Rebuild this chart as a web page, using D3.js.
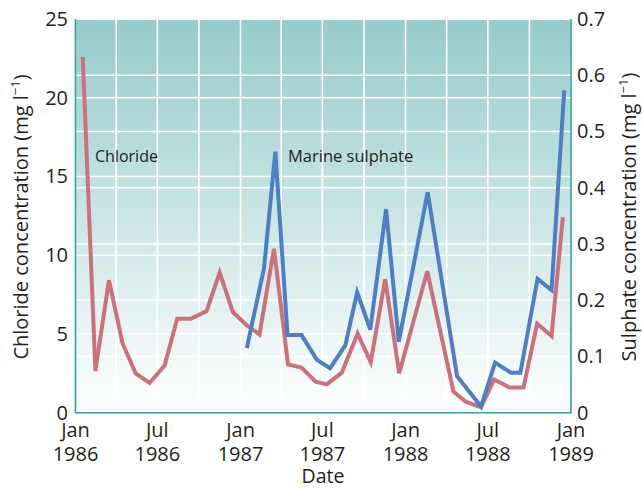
<!DOCTYPE html>
<html><head><meta charset="utf-8">
<script src="https://cdn.jsdelivr.net/npm/d3@7"></script>
<style>
html,body{margin:0;padding:0;background:#fff;}
text{font-family:"Open Sans",sans-serif;fill:#231f20;}
</style></head>
<body>
<svg id="chart" width="642" height="489"></svg>
<script>
// ---- data ----
const chlorideDates = ["1986-01-17","1986-02-14","1986-03-16","1986-04-15","1986-05-14","1986-06-14","1986-07-17","1986-08-14","1986-09-13","1986-10-18","1986-11-16","1986-12-15","1987-01-14","1987-02-12","1987-03-16","1987-04-16","1987-05-16","1987-06-16","1987-07-11","1987-08-13","1987-09-17","1987-10-16","1987-11-17","1987-12-18","1988-02-18","1988-04-16","1988-05-13","1988-06-16","1988-07-15","1988-08-18","1988-09-18","1988-10-18","1988-11-19","1988-12-14"];
const chlorideValues = [22.6,2.65,8.41,4.41,2.50,1.89,3.00,5.97,5.97,6.46,8.90,6.39,5.57,4.97,10.41,3.07,2.86,1.97,1.80,2.54,5.02,3.22,8.47,2.50,8.98,1.33,0.70,0.34,2.11,1.60,1.60,5.65,4.87,12.41];
const sulphateDates = ["1987-01-15","1987-02-22","1987-03-19","1987-04-15","1987-05-16","1987-06-19","1987-07-18","1987-08-21","1987-09-16","1987-10-15","1987-11-19","1987-12-17","1988-02-19","1988-04-24","1988-06-16","1988-07-17","1988-08-21","1988-09-11","1988-10-19","1988-11-19","1988-12-17"];
const sulphateValues = [0.115,0.257,0.464,0.138,0.138,0.094,0.079,0.120,0.214,0.148,0.362,0.126,0.392,0.065,0.011,0.089,0.071,0.071,0.238,0.218,0.573];
const xTickDates = ["1986-01-01","1986-07-01","1987-01-01","1987-07-01","1988-01-01","1988-07-01","1989-01-01"];
const xTickMonths = ["Jan","Jul","Jan","Jul","Jan","Jul","Jan"];
const xTickYears = ["1986","1986","1987","1987","1988","1988","1989"];
const leftTicks = [0,5,10,15,20,25];
const rightTicks = [0,0.1,0.2,0.3,0.4,0.5,0.6,0.7];

const parse = d3.timeParse("%Y-%m-%d");
const svg = d3.select("#chart");
const m = {left:75.5, right:571, top:19, bottom:412.7};

const x = d3.scaleTime().domain([parse("1986-01-01"), parse("1989-01-01")]).range([m.left, m.right]);
const yL = d3.scaleLinear().domain([0,25]).range([m.bottom, m.top]);
const yR = d3.scaleLinear().domain([0,0.7]).range([m.bottom, m.top]);

// background gradient
const defs = svg.append("defs");
const g = defs.append("linearGradient").attr("id","bg").attr("x1",0).attr("y1",0).attr("x2",0).attr("y2",1);
g.append("stop").attr("offset","0%").attr("stop-color","#95cbca");
g.append("stop").attr("offset","100%").attr("stop-color","#ffffff");
svg.append("rect").attr("x",m.left).attr("y",m.top).attr("width",m.right-m.left).attr("height",m.bottom-m.top).attr("fill","url(#bg)");

// grid
const quarterTicks = d3.timeMonth.every(3).range(parse("1986-01-01"), parse("1989-01-02"));
svg.append("g").selectAll("line").data(quarterTicks).join("line")
  .attr("x1",d=>x(d)).attr("x2",d=>x(d)).attr("y1",m.top).attr("y2",m.bottom)
  .attr("stroke","#fff").attr("stroke-width",1.6);
svg.append("g").selectAll("line").data(leftTicks).join("line")
  .attr("x1",m.left).attr("x2",m.right).attr("y1",d=>yL(d)).attr("y2",d=>yL(d))
  .attr("stroke","#fff").attr("stroke-width",1.6);
svg.append("g").selectAll("line").data(rightTicks).join("line")
  .attr("x1",m.left).attr("x2",m.right).attr("y1",d=>yR(d)).attr("y2",d=>yR(d))
  .attr("stroke","#fff").attr("stroke-width",1.6);

// frame
const teal = "#27a6a0";
svg.append("path").attr("d",`M${m.left},${m.top}V${m.bottom}H${m.right}V${m.top}`)
  .attr("fill","none").attr("stroke",teal).attr("stroke-width",1.6);

// lines
const chl = chlorideDates.map((d,i)=>({d:parse(d),v:chlorideValues[i]}));
const sul = sulphateDates.map((d,i)=>({d:parse(d),v:sulphateValues[i]}));
svg.append("path").datum(chl).attr("fill","none").attr("stroke","#cc717c").attr("stroke-width",4)
  .attr("stroke-linejoin","miter").attr("d",d3.line().x(d=>x(d.d)).y(d=>yL(d.v)));
svg.append("path").datum(sul).attr("fill","none").attr("stroke","#4d7fc5").attr("stroke-width",4)
  .attr("stroke-linejoin","miter").attr("d",d3.line().x(d=>x(d.d)).y(d=>yR(d.v)));

// axes labels
const fs = 20;
svg.append("g").selectAll("text").data(leftTicks).join("text")
  .attr("x",68).attr("y",d=>yL(d)).attr("dy","0.34em").attr("text-anchor","end")
  .attr("font-size",fs).text(d=>d);
svg.append("g").selectAll("text").data(rightTicks).join("text")
  .attr("x",577).attr("y",d=>yR(d)).attr("dy","0.34em").attr("text-anchor","start")
  .attr("font-size",fs).text(d=>d===0?"0":d3.format(".1f")(d));
const xt = svg.append("g").selectAll("g").data(xTickDates).join("g")
  .attr("transform",d=>`translate(${x(parse(d))},0)`);
xt.append("text").attr("y",437).attr("text-anchor","middle").attr("font-size",fs).text((d,i)=>xTickMonths[i]);
xt.append("text").attr("y",461).attr("text-anchor","middle").attr("font-size",fs).text((d,i)=>xTickYears[i]);

svg.append("text").attr("x",323).attr("y",483).attr("text-anchor","middle").attr("font-size",19.5).text("Date");

function yTitle(xPos, label){
  const t = svg.append("text").attr("transform",`translate(${xPos},217) rotate(-90)`)
    .attr("text-anchor","middle").attr("font-size",20);
  t.append("tspan").text(label+" (mg l");
  t.append("tspan").attr("font-size",13).attr("dy",-8).text("−1");
  t.append("tspan").attr("dy",8).text(")");
}
yTitle(28, "Chloride concentration");
yTitle(636, "Sulphate concentration");

svg.append("text").attr("x",95).attr("y",162).attr("font-size",16).text("Chloride");
svg.append("text").attr("x",288).attr("y",162).attr("font-size",16.5).text("Marine sulphate");
</script>
</body></html>
